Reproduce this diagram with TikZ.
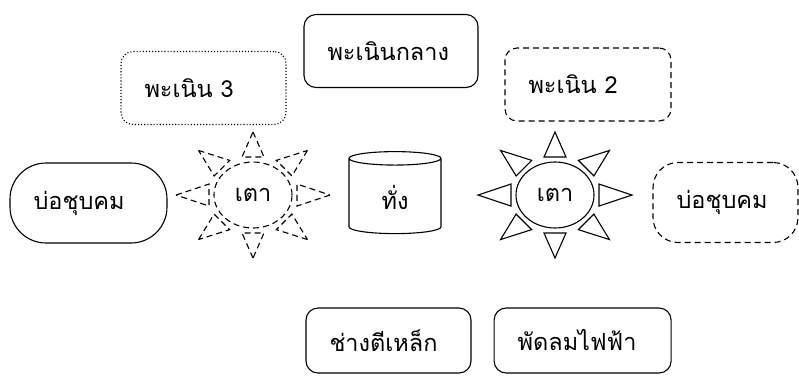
\documentclass[tikz,border=0pt]{standalone}
\usepackage{fontspec}
\newfontfamily\thaifont[Script=Thai]{Loma}
\usetikzlibrary{shapes.geometric,positioning}
\tikzset{
	box/.style={rectangle,rounded corners=12pt,draw,line width=1.1pt,inner xsep=23.5pt,align=left,text width=#1,minimum height=73pt,font=\thaifont\fontsize{23.5}{27}\selectfont},
	dotbox/.style={box=#1,dotted},
	dashbox/.style={box=#1,dash pattern=on 6pt off 4pt},
	pond/.style={box=#1,rounded corners=36pt,minimum height=80pt},
	stove/.style={ellipse,draw,line width=1.1pt,minimum width=78pt,minimum height=66pt,inner sep=0pt,font=\thaifont\fontsize{23.5}{27}\selectfont},
	anvil/.style={cylinder,shape border rotate=90,draw,line width=1.1pt,aspect=0.4,minimum width=92pt,minimum height=82pt,font=\thaifont\fontsize{23.5}{27}\selectfont},
	ray/.style={line width=1.1pt,line join=miter},
	dashray/.style={ray,dash pattern=on 6pt off 4pt}
}
\begin{document}
\begin{tikzpicture}[x=1pt,y=-1pt]
\useasboundingbox (0,0) rectangle (799,376);

%%%% hammers
\node[box=127pt] (mid) at (391,51) {พะเนินกลาง};
\node[dotbox=118pt] (ham3) at (203.5,88) {พะเนิน 3};
\node[dashbox=119pt] (ham2) at (588,84.5) {พะเนิน 2};

%%%% ponds, anvil
\node[pond=110pt] (pondL) at (88.5,203) {บ่อชุบคม};
\node[pond=98pt,dash pattern=on 6pt off 4pt,rounded corners=25pt] (pondR) at (725.5,202.5) {บ่อชุบคม};
\node[anvil] (anvil) at (395,197.5) {ทั่ง};

%%%% stoves
\node[stove,dash pattern=on 6pt off 4pt] (stoveL) at (253,195) {เตา};
\node[stove] (stoveR) at (555,195) {เตา};
\begin{scope}[shift={(stoveL.center)}]
\foreach \a in {0,45,...,315}
	\draw[dashray] ({77*cos(\a)},{63*sin(\a)}) -- ({44*cos(\a)-11*sin(\a)},{38*sin(\a)+11*cos(\a)}) -- ({44*cos(\a)+11*sin(\a)},{38*sin(\a)-11*cos(\a)}) -- cycle;
\end{scope}
\begin{scope}[shift={(stoveR.center)}]
\foreach \a in {0,45,...,315}
	\draw[ray] ({77*cos(\a)},{63*sin(\a)}) -- ({44*cos(\a)-11*sin(\a)},{38*sin(\a)+11*cos(\a)}) -- ({44*cos(\a)+11*sin(\a)},{38*sin(\a)-11*cos(\a)}) -- cycle;
\end{scope}

%%%% workers
\node[box=118pt,minimum height=65pt] (smith) at (388.5,340.5) {ช่างตีเหล็ก};
\node[box=130pt,minimum height=65pt,right=22pt of smith] (fan) {พัดลมไฟฟ้า};
\end{tikzpicture}
\end{document}
